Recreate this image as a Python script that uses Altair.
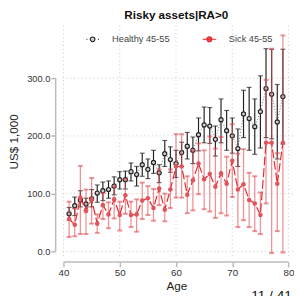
import altair as alt
import pandas as pd

ages = list(range(41, 80))
healthy_mean = [65, 79, 89, 82, 91, 101, 105, 107, 113, 124, 124, 138, 133, 150, 142, 154, 136, 169, 159, 152,
                171, 182, 175, 202, 219, 217, 194, 228, 209, 200, 178, 238, 230, 216, 242, 282, 272, 224, 268]
healthy_lo = [54, 62, 77, 71, 77, 85, 88, 92, 98, 108, 108, 122, 113, 130, 126, 135, 119, 147, 137, 128,
              147, 160, 152, 174, 188, 187, 165, 188, 175, 170, 147, 197, 175, 168, 179, 197, 195, 160, 186]
healthy_hi = [76, 94, 105, 92, 107, 115, 120, 122, 129, 138, 139, 153, 147, 170, 160, 175, 150, 192, 181, 175,
              189, 206, 198, 231, 250, 249, 217, 264, 244, 231, 212, 279, 284, 264, 304, 351, 350, 289, 350]
sick_mean = [56, 46, 93, 70, 90, 48, 80, 64, 90, 63, 97, 63, 64, 88, 92, 75, 109, 72, 107, 147,
             147, 98, 123, 152, 125, 134, 112, 135, 117, 157, 107, 116, 89, 83, 63, 188, 188, 117, 188]
sick_lo = [25, 26, 30, 30, 48, 32, 56, 40, 57, 36, 65, 42, 34, 56, 63, 53, 80, 52, 75, 93,
           93, 66, 71, 99, 73, 69, 58, 66, 62, 94, 42, 54, 42, 35, 30, 83, -3, 35, -2]
sick_hi = [86, 74, 148, 107, 127, 64, 101, 85, 113, 86, 125, 86, 90, 119, 113, 108, 142, 100, 142, 203,
           203, 130, 175, 187, 175, 199, 178, 198, 164, 220, 169, 177, 136, 130, 102, 297, 351, 170, 374]

series = ["Healthy 45-55", "Sick 45-55"]
x_ticks = [40, 50, 60, 70, 80]
y_ticks = [0, 100, 200, 300]
page_label = "11 / 41"

FONT = "Liberation Sans"
BLACK = "#222222"
RED_LINE = "#e8262e"
RED_PT = "#e0555b"
RED_BAR = "#e34a50"
AXIS_GRAY = "#bbbbbb"

W, H = 240, 238

H_df = pd.DataFrame({"age": ages, "series": series[0], "mean": healthy_mean, "lo": healthy_lo, "hi": healthy_hi})
S_df = pd.DataFrame({"age": ages, "series": series[1], "mean": sick_mean, "lo": sick_lo, "hi": sick_hi})
all_df = pd.concat([H_df, S_df])

xs = alt.Scale(domain=[39.3, 80.8], nice=False, zero=False)
ys = alt.Scale(domain=[-10, 391], nice=False, zero=False)

xaxis = alt.Axis(values=x_ticks, grid=False, domain=False, tickColor=AXIS_GRAY, tickSize=5, tickWidth=1.5,
                 offset=5, labelFontSize=10, labelColor="#333333", labelPadding=1, titleFontSize=12,
                 titleFontWeight="normal", titleColor="#222222", titlePadding=3, format="d")
yaxis = alt.Axis(values=y_ticks, grid=False, domain=False, tickColor=AXIS_GRAY, tickSize=5, tickWidth=1.5,
                 offset=4, labelFontSize=9.5, labelColor="#333333", labelPadding=1, titleFontSize=12,
                 titleFontWeight="normal", titleColor="#222222", titlePadding=6, format=".1f")


def xenc(f):
    return alt.X(f"{f}:Q", scale=xs, axis=xaxis, title="Age")


def yenc(f):
    return alt.Y(f"{f}:Q", scale=ys, axis=yaxis, title="US$ 1,000")


grid_h = alt.Chart(pd.DataFrame({"v": y_ticks})).mark_rule(
    color="#c8c8c8", strokeDash=[1, 3], strokeWidth=1).encode(y=yenc("v"))
grid_v = alt.Chart(pd.DataFrame({"v": x_ticks})).mark_rule(
    color="#c8c8c8", strokeDash=[1, 3], strokeWidth=1).encode(x=xenc("v"))

ax_df = pd.DataFrame({"y0": [min(y_ticks)], "y1": [max(y_ticks)], "x0": [min(x_ticks)], "x1": [max(x_ticks)]})
y_line = alt.Chart(ax_df).mark_rule(color=AXIS_GRAY, strokeWidth=1.5).encode(
    x=alt.value(-4), y=yenc("y0"), y2="y1")
x_line = alt.Chart(ax_df).mark_rule(color=AXIS_GRAY, strokeWidth=1.5).encode(
    y=alt.value(H + 5), x=xenc("x0"), x2="x1")

hb = alt.Chart(H_df)
h_line = hb.mark_line(color="#777777", strokeDash=[1, 2], strokeWidth=1).encode(x=xenc("age"), y=yenc("mean"))
h_bar = hb.mark_rule(color=BLACK, strokeWidth=1.2).encode(x=xenc("age"), y=yenc("lo"), y2="hi")
h_cap_lo = hb.mark_tick(color=BLACK, orient="horizontal", size=5, thickness=1.2).encode(x=xenc("age"), y=yenc("lo"))
h_cap_hi = hb.mark_tick(color=BLACK, orient="horizontal", size=5, thickness=1.2).encode(x=xenc("age"), y=yenc("hi"))
h_pts = hb.mark_point(shape="circle", size=18, stroke=BLACK, strokeWidth=1.2, fill="#d0d0d0",
                      filled=False, opacity=1).encode(x=xenc("age"), y=yenc("mean"))

sb = alt.Chart(S_df)
s_bar = sb.mark_rule(color=RED_BAR, strokeWidth=1.3, opacity=0.6).encode(x=xenc("age"), y=yenc("lo"), y2="hi")
s_cap_lo = sb.mark_tick(color=RED_BAR, orient="horizontal", size=5, thickness=2, opacity=0.6).encode(
    x=xenc("age"), y=yenc("lo"))
s_cap_hi = sb.mark_tick(color=RED_BAR, orient="horizontal", size=5, thickness=2, opacity=0.6).encode(
    x=xenc("age"), y=yenc("hi"))
s_line = sb.mark_line(color=RED_LINE, strokeDash=[9, 3], strokeWidth=1.2).encode(x=xenc("age"), y=yenc("mean"))
s_pts = sb.mark_point(shape="circle", size=22, filled=True, color=RED_PT, opacity=1).encode(
    x=xenc("age"), y=yenc("mean"))

path_h = ("M-0.9,0L-0.78,0M0.78,0L0.9,0"
          "M0.34,0A0.34,0.34,0,1,1,-0.34,0A0.34,0.34,0,1,1,0.34,0Z")
path_s = ("M-1,0L1,0"
          "M0.36,0A0.36,0.36,0,1,1,-0.36,0A0.36,0.36,0,1,1,0.36,0Z")

leg = alt.Chart(all_df).transform_filter("false").mark_point(strokeWidth=1.2, opacity=1).encode(
    x=xenc("age"), y=yenc("mean"),
    shape=alt.Shape("series:N", title=None, scale=alt.Scale(domain=series, range=[path_h, path_s]),
                    legend=alt.Legend(orient="none", legendX=26, legendY=6, direction="horizontal",
                                      symbolSize=196, symbolStrokeWidth=1.2, labelFontSize=9.5,
                                      labelColor="#444444", labelOffset=12, columnPadding=30, padding=0,
                                      symbolOpacity=1, labelFont=FONT, labelFontWeight="normal")),
    stroke=alt.Stroke("series:N", title=None, scale=alt.Scale(domain=series, range=[BLACK, RED_LINE])),
    fill=alt.Fill("series:N", title=None, scale=alt.Scale(domain=series, range=["#d0d0d0", RED_PT])),
)

page = alt.Chart(pd.DataFrame({"t": [page_label]})).mark_text(
    align="left", baseline="alphabetic", fontSize=14, color="#111111", font=FONT).encode(
    x=alt.value(197), y=alt.value(282), text="t:N")

chart = alt.layer(
    grid_h, grid_v, y_line, x_line,
    h_line, h_bar, h_cap_lo, h_cap_hi, h_pts,
    s_bar, s_cap_lo, s_cap_hi, s_line, s_pts,
    leg, page,
).properties(
    width=W, height=H,
    title=alt.TitleParams("Risky assets|RA>0", fontSize=12, fontWeight="bold", font=FONT, color="#111111",
                          anchor="middle", frame="group", offset=3),
    padding={"left": 53, "top": 14, "right": 1, "bottom": 40},
    autosize="none",
).configure(font=FONT).configure_view(stroke=None)

chart.save("out.html", embed_options={"renderer": "svg", "actions": False})
